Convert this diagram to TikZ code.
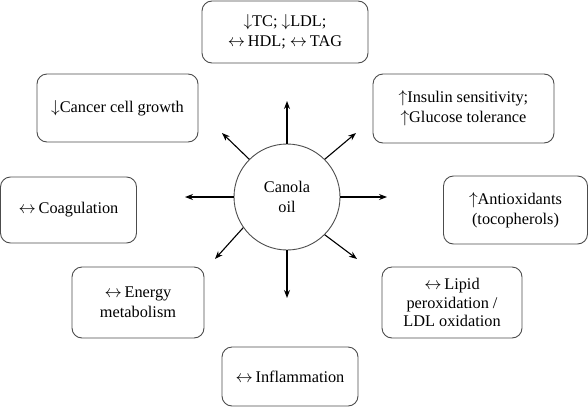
\documentclass[tikz,border=0pt]{standalone}
\usepackage{fontspec}
\setmainfont{Liberation Serif}
\usetikzlibrary{arrows.meta}
\newcommand{\dn}{$\downarrow$}
\newcommand{\upa}{$\uparrow$}
\newcommand{\lr}{$\leftrightarrow$\,}
\begin{document}
\begin{tikzpicture}[x=1pt,y=-1pt,
  box/.style={draw=black!70,line width=0.9pt,rounded corners=10pt,align=center,font=\fontsize{16.3}{20}\selectfont,inner sep=0pt},
  arr/.style={-{Stealth[length=8pt,width=6pt]},line width=1.1pt}]
\useasboundingbox (0,0) rectangle (588,407);
\node[draw=black!70,line width=0.9pt,circle,minimum size=106pt,inner sep=0pt,align=center,font=\fontsize{16.3}{20}\selectfont] (c) at (287,197) {Canola\\oil};
\node[box,minimum width=166pt,minimum height=62pt] (tc) at (285,32) {\dn TC; \dn LDL;\\\lr HDL; \lr TAG};
\node[box,minimum width=181pt,minimum height=69pt] (ins) at (463.5,108.5) {\upa Insulin sensitivity;\\\upa Glucose tolerance};
\node[box,minimum width=161pt,minimum height=68pt] (can) at (117.5,108) {\dn Cancer cell growth};
\node[box,minimum width=136pt,minimum height=66pt] (coa) at (68.5,210) {\lr Coagulation};
\node[box,minimum width=144pt,minimum height=68pt] (ant) at (515.5,210) {\upa Antioxidants\\(tocopherols)};
\node[box,minimum width=140pt,minimum height=71pt,font=\fontsize{16.3}{18.5}\selectfont] (lip) at (452,302.5) {\lr Lipid\\peroxidation /\\LDL oxidation};
\node[box,minimum width=132pt,minimum height=71pt] (ene) at (138,302.5) {\lr Energy\\metabolism};
\node[box,minimum width=136pt,minimum height=59pt] (inf) at (290,376.5) {\lr Inflammation};
\coordinate (tU) at (287,101);
\coordinate (tUL) at (222,133);
\coordinate (tUR) at (356,133);
\coordinate (tL) at (185,197);
\coordinate (tR) at (387,197);
\coordinate (tDL) at (215,259);
\coordinate (tDR) at (357,259);
\coordinate (tD) at (287,298);
\draw[arr] (c.90) -- (tU);
\draw[arr] (c.135) -- (tUL);
\draw[arr] (c.45) -- (tUR);
\draw[arr] (c.180) -- (tL);
\draw[arr] (c.0) -- (tR);
\draw[arr] (c.215) -- (tDL);
\draw[arr] (c.-45) -- (tDR);
\draw[arr] (c.-90) -- (tD);
\end{tikzpicture}
\end{document}
